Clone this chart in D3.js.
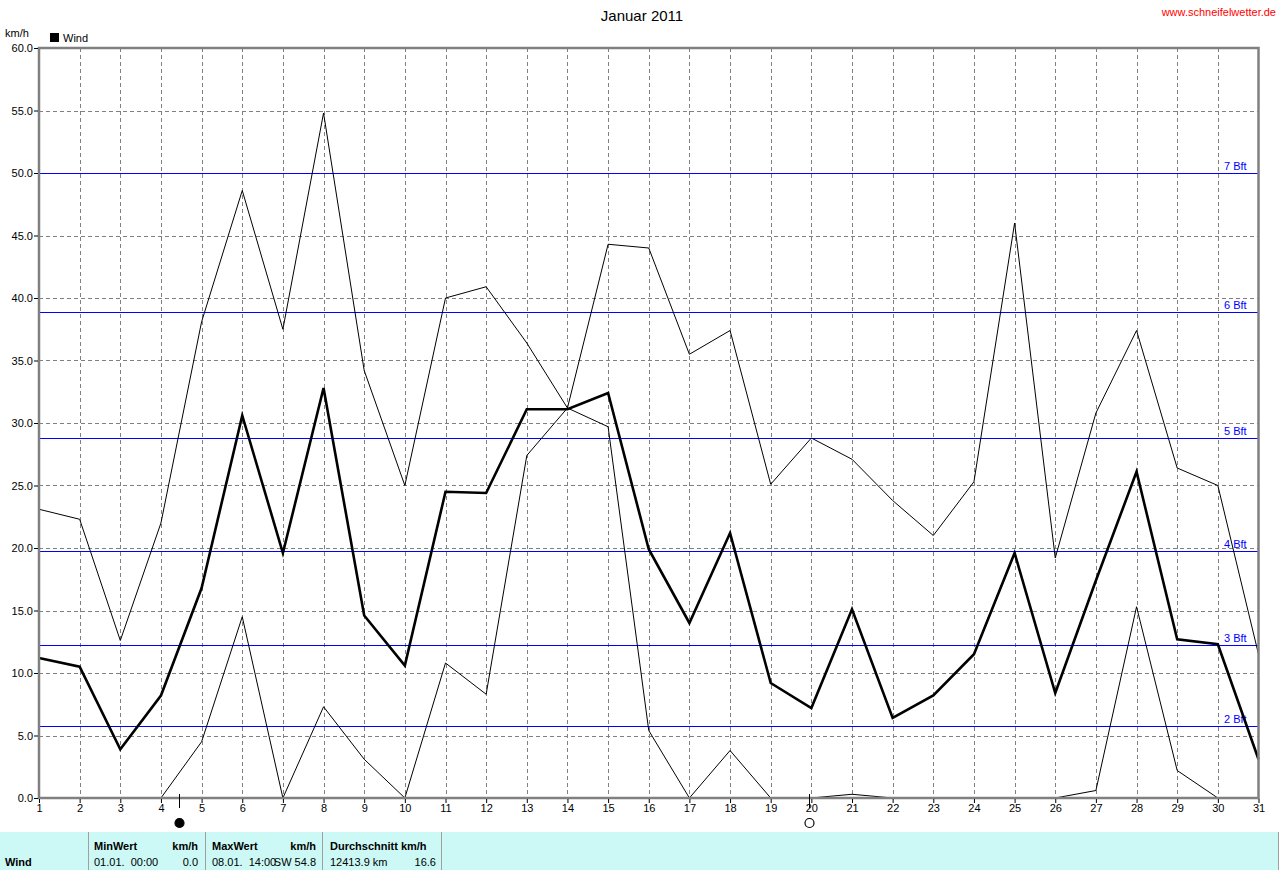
<!DOCTYPE html>
<html><head><meta charset="utf-8">
<script src="https://cdn.jsdelivr.net/npm/d3@7"></script>
<style>body{margin:0;background:#fff}svg{display:block;font-family:"Liberation Sans",Arial,sans-serif}</style>
</head><body><svg id="c" width="1280" height="870"></svg>
<script>
const days = d3.range(1, 32);
const windMax = [23.1,22.3,12.6,22.0,38.1,48.6,37.5,54.8,34.2,25.0,40.0,40.9,36.4,31.2,44.3,44.0,35.5,37.4,25.1,28.8,27.1,23.8,21.0,25.3,46.0,19.2,30.8,37.4,26.4,25.0,11.5];
const windMean = [11.2,10.5,3.9,8.2,16.8,30.6,19.6,32.8,14.6,10.6,24.5,24.4,31.1,31.1,32.4,19.9,14.0,21.2,9.2,7.2,15.1,6.4,8.2,11.5,19.6,8.4,17.4,26.1,12.7,12.3,3.1];
const windMin = [0,0,0,0,4.5,14.5,0,7.3,3.1,0,10.8,8.3,27.4,31.2,29.7,5.4,0,3.8,0,0,0.3,0,0,0,0,0,0.6,15.3,2.2,0,0];
const yTicks = [0,5,10,15,20,25,30,35,40,45,50,55,60];
const bftLevels = [5.76,12.24,19.8,28.8,38.88,50.04];
const bftLabels = ["2 Bft","3 Bft","4 Bft","5 Bft","6 Bft","7 Bft"];
const moonDays = [4.45, 19.95];
const moonTypes = ["new","full"];
const footerHeaders = ["MinWert","km/h","MaxWert","km/h","Durchschnitt km/h"];
const footerValues = ["01.01.  00:00","0.0","08.01.  14:00","SW 54.8","12413.9 km","16.6"];

const svg = d3.select("#c");
const x = d3.scaleLinear().domain([1,31]).range([39,1258.5]);
const y = d3.scaleLinear().domain([0,60]).range([798,48]);
const grey = "#808080";

// title
svg.append("text").attr("x",642).attr("y",21).attr("text-anchor","middle").attr("font-size",15).text("Januar 2011");
svg.append("text").attr("x",1276).attr("y",16).attr("text-anchor","end").attr("font-size",11).attr("fill","#ff0000").text("www.schneifelwetter.de");
svg.append("text").attr("x",5).attr("y",37).attr("font-size",11).text("km/h");
svg.append("rect").attr("x",50).attr("y",33).attr("width",9).attr("height",9).attr("fill","#000");
svg.append("text").attr("x",63).attr("y",42).attr("font-size",11).text("Wind");

// grid
const g = svg.append("g");
g.selectAll("line.hg").data(yTicks.filter(d=>d>0&&d<60)).join("line")
 .attr("x1",x(1)).attr("x2",x(31)).attr("y1",d=>Math.round(y(d))+0.5).attr("y2",d=>Math.round(y(d))+0.5)
 .attr("stroke",grey).attr("stroke-dasharray","4,3");
g.selectAll("line.vg").data(days.filter(d=>d>1&&d<31)).join("line")
 .attr("x1",d=>Math.round(x(d))+0.5).attr("x2",d=>Math.round(x(d))+0.5).attr("y1",y(60)).attr("y2",y(0))
 .attr("stroke",grey).attr("stroke-dasharray","4,3");

// Beaufort lines
g.selectAll("line.bft").data(bftLevels).join("line")
 .attr("x1",x(1)).attr("x2",x(31)).attr("y1",d=>Math.round(y(d))+0.5).attr("y2",d=>Math.round(y(d))+0.5)
 .attr("stroke","#0000ff").attr("stroke-width",1);
g.selectAll("text.bft").data(bftLevels).join("text")
 .attr("x",1224).attr("y",d=>y(d)-3).attr("font-size",11).attr("fill","#0000ff")
 .text((d,i)=>bftLabels[i]);

// series
const line = d3.line().x((d,i)=>x(days[i])).y(d=>y(d));
svg.append("path").attr("d",line(windMax)).attr("fill","none").attr("stroke","#000").attr("stroke-width",1);
svg.append("path").attr("d",line(windMin)).attr("fill","none").attr("stroke","#000").attr("stroke-width",1);
svg.append("path").attr("d",line(windMean)).attr("fill","none").attr("stroke","#000").attr("stroke-width",2.6);

// frame
svg.append("rect").attr("x",x(1)).attr("y",y(60)).attr("width",x(31)-x(1)).attr("height",y(0)-y(60))
 .attr("fill","none").attr("stroke",grey).attr("stroke-width",2.5);

// axes
const yAxis = d3.axisLeft(y).tickValues(yTicks).tickSize(4).tickFormat(d3.format(".1f"));
const ya = svg.append("g").attr("transform",`translate(${x(1)-1},0)`).call(yAxis);
ya.select(".domain").remove();
ya.selectAll("line").attr("stroke","#000");
ya.selectAll("text").attr("font-size",11).attr("font-family","Liberation Sans, Arial").attr("dx",2).attr("fill","#000");

const xAxis = d3.axisBottom(x).tickValues(days).tickSize(4).tickFormat(d3.format("d"));
const xa = svg.append("g").attr("transform",`translate(0,${y(0)+1})`).call(xAxis);
xa.select(".domain").remove();
xa.selectAll("line").attr("stroke","#000");
xa.selectAll("text").attr("font-size",11).attr("font-family","Liberation Sans, Arial").attr("dy","0.55em").attr("fill","#000");

// moon phases
moonDays.forEach((d,i)=>{
  const mx = Math.round(x(d))+0.5;
  svg.append("line").attr("x1",mx).attr("x2",mx).attr("y1",794).attr("y2",808).attr("stroke","#000");
  svg.append("circle").attr("cx",mx).attr("cy",823).attr("r",moonTypes[i]==="new"?4.5:4.5)
    .attr("fill",moonTypes[i]==="new"?"#000":"none").attr("stroke","#000").attr("stroke-width",1.2);
});

// footer
const fy = 832;
svg.append("rect").attr("x",0).attr("y",fy).attr("width",1278).attr("height",870-fy).attr("fill","#ccf9f6");
[88,205,322,441,1278].forEach(sx=>{
  svg.append("line").attr("x1",sx+0.5).attr("x2",sx+0.5).attr("y1",fy).attr("y2",870).attr("stroke","#a0a0a0");
});
const ft = svg.append("g").attr("font-size",11).attr("fill","#000");
ft.append("text").attr("x",5).attr("y",866).attr("font-weight","bold").text("Wind");
ft.append("text").attr("x",94).attr("y",850).attr("font-weight","bold").text(footerHeaders[0]);
ft.append("text").attr("x",198).attr("y",850).attr("text-anchor","end").attr("font-weight","bold").text(footerHeaders[1]);
ft.append("text").attr("x",212).attr("y",850).attr("font-weight","bold").text(footerHeaders[2]);
ft.append("text").attr("x",316).attr("y",850).attr("text-anchor","end").attr("font-weight","bold").text(footerHeaders[3]);
ft.append("text").attr("x",330).attr("y",850).attr("font-weight","bold").text(footerHeaders[4]);
ft.append("text").attr("x",94).attr("y",866).attr("xml:space","preserve").style("white-space","pre").text(footerValues[0]);
ft.append("text").attr("x",198).attr("y",866).attr("text-anchor","end").text(footerValues[1]);
ft.append("text").attr("x",212).attr("y",866).style("white-space","pre").text(footerValues[2]);
ft.append("text").attr("x",316).attr("y",866).attr("text-anchor","end").text(footerValues[3]);
ft.append("text").attr("x",330).attr("y",866).text(footerValues[4]);
ft.append("text").attr("x",436).attr("y",866).attr("text-anchor","end").text(footerValues[5]);
</script></body></html>
